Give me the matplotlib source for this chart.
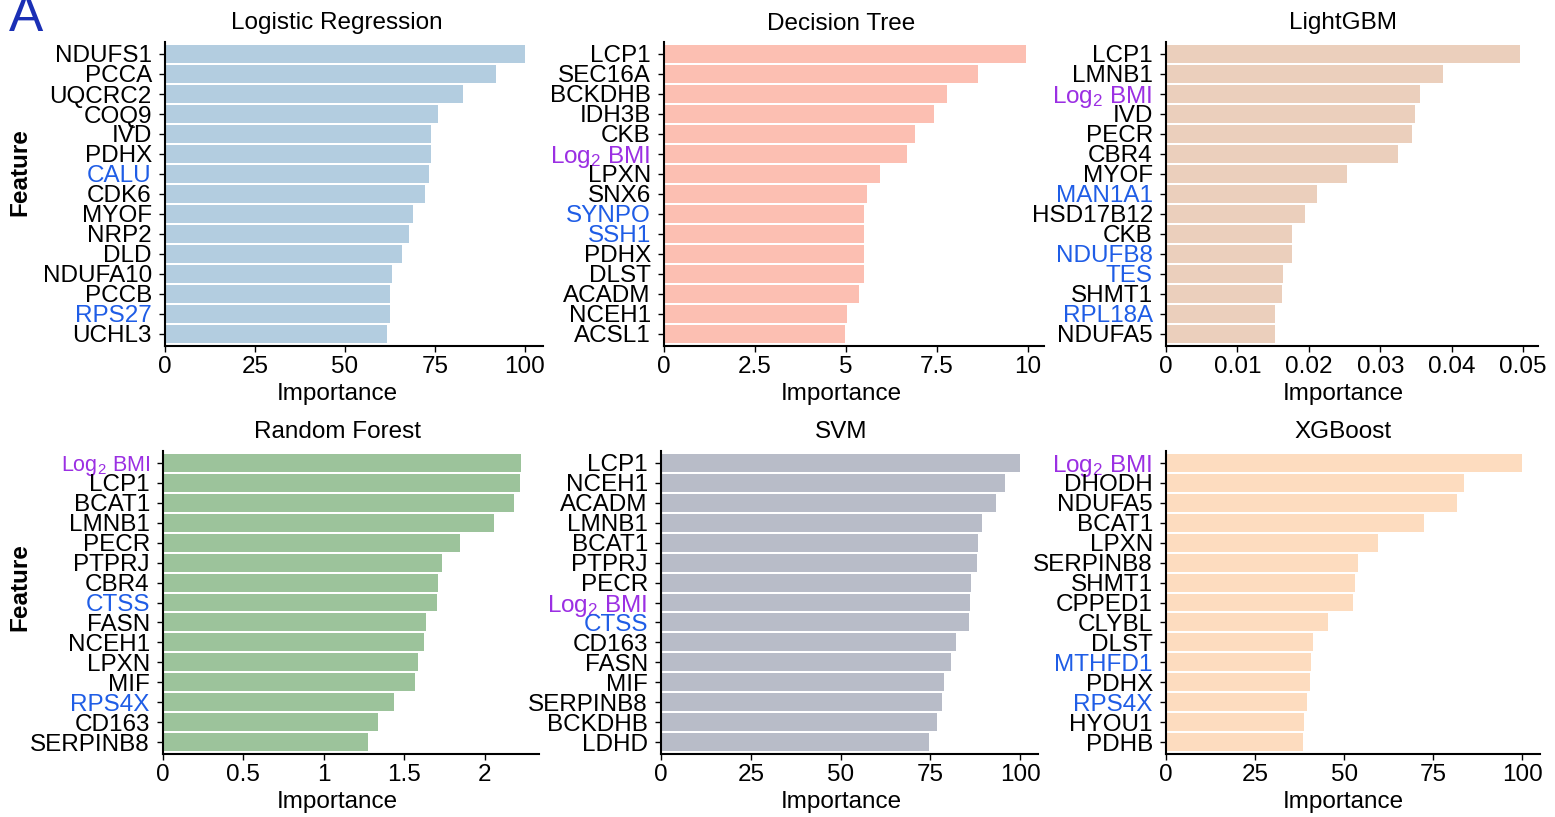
import matplotlib
matplotlib.use('Agg')
import matplotlib.pyplot as plt
from matplotlib.ticker import MultipleLocator, FuncFormatter

plt.rcParams['font.family'] = ['Liberation Sans', 'DejaVu Sans']
plt.rcParams['mathtext.fontset'] = 'custom'
plt.rcParams['mathtext.rm'] = 'Liberation Sans'
plt.rcParams['mathtext.it'] = 'Liberation Sans:italic'

BMI = 'Log$_2$ BMI'

# Feature importances (top 15 per model)
lr_genes = ['NDUFS1', 'PCCA', 'UQCRC2', 'COQ9', 'IVD', 'PDHX', 'CALU', 'CDK6', 'MYOF',
            'NRP2', 'DLD', 'NDUFA10', 'PCCB', 'RPS27', 'UCHL3']
lr_vals = [100, 92.0, 82.9, 75.9, 73.9, 73.8, 73.3, 72.2, 68.9, 67.7, 65.8, 63.0, 62.5, 62.4, 61.7]

dt_genes = ['LCP1', 'SEC16A', 'BCKDHB', 'IDH3B', 'CKB', BMI, 'LPXN', 'SNX6', 'SYNPO',
            'SSH1', 'PDHX', 'DLST', 'ACADM', 'NCEH1', 'ACSL1']
dt_vals = [9.95, 8.64, 7.79, 7.43, 6.91, 6.69, 5.95, 5.57, 5.51, 5.51, 5.51, 5.51, 5.37, 5.02, 4.99]

lgbm_genes = ['LCP1', 'LMNB1', BMI, 'IVD', 'PECR', 'CBR4', 'MYOF', 'MAN1A1', 'HSD17B12',
              'CKB', 'NDUFB8', 'TES', 'SHMT1', 'RPL18A', 'NDUFA5']
lgbm_vals = [0.0496, 0.0388, 0.0355, 0.0349, 0.0344, 0.0325, 0.0254, 0.0212, 0.0195,
             0.0177, 0.0177, 0.0164, 0.0162, 0.0153, 0.0152]

rf_genes = [BMI, 'LCP1', 'BCAT1', 'LMNB1', 'PECR', 'PTPRJ', 'CBR4', 'CTSS', 'FASN',
            'NCEH1', 'LPXN', 'MIF', 'RPS4X', 'CD163', 'SERPINB8']
rf_vals = [2.227, 2.221, 2.183, 2.058, 1.846, 1.735, 1.710, 1.703, 1.634, 1.621,
           1.585, 1.565, 1.434, 1.336, 1.278]

svm_genes = ['LCP1', 'NCEH1', 'ACADM', 'LMNB1', 'BCAT1', 'PTPRJ', 'PECR', BMI, 'CTSS',
             'CD163', 'FASN', 'MIF', 'SERPINB8', 'BCKDHB', 'LDHD']
svm_vals = [100, 95.7, 93.4, 89.5, 88.4, 88.1, 86.4, 86.1, 85.8, 82.2, 80.8, 78.8, 78.2, 76.8, 74.6]

xgb_genes = [BMI, 'DHODH', 'NDUFA5', 'BCAT1', 'LPXN', 'SERPINB8', 'SHMT1', 'CPPED1', 'CLYBL',
             'DLST', 'MTHFD1', 'PDHX', 'RPS4X', 'HYOU1', 'PDHB']
xgb_vals = [100, 83.6, 81.6, 72.3, 59.4, 54.0, 53.2, 52.6, 45.6, 41.4, 40.8, 40.5, 39.7, 38.8, 38.6]

# highlighted labels
blue_genes = {
    'Logistic Regression': ['CALU', 'RPS27'],
    'Decision Tree': ['SYNPO', 'SSH1'],
    'LightGBM': ['MAN1A1', 'NDUFB8', 'TES', 'RPL18A'],
    'Random Forest': ['CTSS', 'RPS4X'],
    'SVM': ['CTSS'],
    'XGBoost': ['MTHFD1', 'RPS4X'],
}

# title, genes, values, colour, tick step, axes box (px), title/xlabel centre (px)
panels = [
    ('Logistic Regression', lr_genes, lr_vals, '#b3cde0', 25, [165, 42, 378, 304], 337),
    ('Decision Tree', dt_genes, dt_vals, '#fcbfb2', 2.5, [664, 42, 380, 304], 841),
    ('LightGBM', lgbm_genes, lgbm_vals, '#ebcfbc', 0.01, [1166, 42, 372, 304], 1343),
    ('Random Forest', rf_genes, rf_vals, '#9cc39b', 0.5, [163, 451, 376, 303], 337),
    ('SVM', svm_genes, svm_vals, '#b8bcc8', 25, [661, 451, 377, 303], 841),
    ('XGBoost', xgb_genes, xgb_vals, '#fddcbf', 25, [1166, 451, 374, 303], 1343),
]

W, H = 1555, 817
fig = plt.figure(figsize=(W / 100, H / 100), dpi=100)

FS = 17.5
BLUE = '#1f5de6'
PURPLE = '#9b2fe3'

for title, genes, vals, color, step, (px, py, pw, ph), cx in panels:
    ax = fig.add_axes([px / W, 1 - (py + ph) / H, pw / W, ph / H])
    n = len(genes)
    ax.barh(range(n), vals, height=0.9, color=color)
    ax.set_ylim(n - 1 + 0.6, -0.6)
    ax.set_yticks(range(n))
    ax.set_yticklabels(genes, fontsize=FS)
    for lab, g in zip(ax.get_yticklabels(), genes):
        if g == BMI:
            lab.set_color(PURPLE)
            if title == 'Random Forest':
                lab.set_fontsize(15.5)
        elif g in blue_genes[title]:
            lab.set_color(BLUE)
    ax.xaxis.set_major_locator(MultipleLocator(step))
    ax.xaxis.set_major_formatter(FuncFormatter(lambda v, p: '{:g}'.format(round(v, 6))))
    ax.tick_params(axis='x', labelsize=FS, length=4, width=1)
    ax.tick_params(axis='y', length=4, width=1, pad=5.5)
    xc = (cx - px) / pw
    ax.set_title(title, fontsize=FS, pad=9, x=xc)
    ax.set_xlabel('Importance', fontsize=FS, labelpad=3, x=xc)
    ax.spines['top'].set_visible(False)
    ax.spines['right'].set_visible(False)
    ax.spines['left'].set_linewidth(1.5)
    ax.spines['bottom'].set_linewidth(1.5)

fig.text(20 / W, 1 - 172 / H, 'Feature', rotation=90, fontsize=FS, fontweight='bold',
         ha='center', va='center')
fig.text(20 / W, 1 - 587 / H, 'Feature', rotation=90, fontsize=FS, fontweight='bold',
         ha='center', va='center')
fig.text(9 / W, 1 - 31 / H, 'A', fontsize=37, color='#1a2fb5', ha='left', va='baseline')

fig.savefig('out.png', dpi=100)
